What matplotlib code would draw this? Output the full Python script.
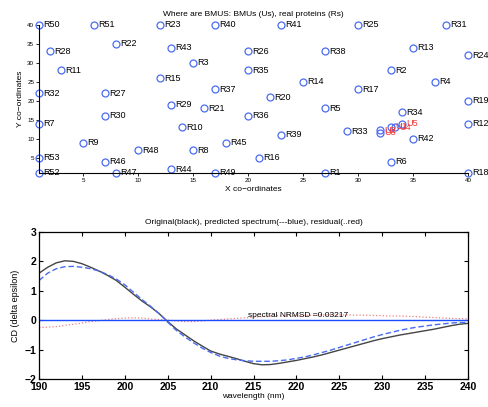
import numpy as np
import matplotlib
matplotlib.use('Agg')
import matplotlib.pyplot as plt

# real proteins (Rs) on the map
r_names = ['R50', 'R51', 'R23', 'R40', 'R41', 'R25', 'R31',
           'R22', 'R28', 'R43', 'R13', 'R26', 'R38', 'R24',
           'R3', 'R11', 'R35', 'R2', 'R15', 'R14', 'R4',
           'R32', 'R27', 'R37', 'R17', 'R20', 'R19',
           'R29', 'R21', 'R5', 'R34', 'R30', 'R36',
           'R7', 'R12', 'R10', 'R33', 'R39', 'R42',
           'R9', 'R45', 'R48', 'R8', 'R53', 'R16',
           'R46', 'R6', 'R44', 'R52', 'R47', 'R49', 'R1', 'R18']
r_x = [1, 6, 12, 17, 23, 30, 38,
       8, 2, 13, 35, 20, 27, 40,
       15, 3, 20, 33, 12, 25, 37,
       1, 7, 17, 30, 22, 40,
       13, 16, 27, 34, 7, 20,
       1, 40, 14, 29, 23, 35,
       5, 18, 10, 15, 1, 21,
       7, 33, 13, 1, 8, 17, 27, 40]
r_y = [40, 40, 40, 40, 40, 40, 40,
       35, 33, 34, 34, 33, 33, 32,
       30, 28, 28, 28, 26, 25, 25,
       22, 22, 23, 23, 21, 20,
       19, 18, 18, 17, 16, 16,
       14, 14, 13, 12, 11, 10,
       9, 9, 7, 7, 5, 5,
       4, 4, 2, 1, 1, 1, 1, 1]

# best matching units (Us)
u_names = ['U1', 'U2', 'U3', 'U4', 'U5']
u_x = [33, 32, 32, 33.4, 34]
u_y = [13.2, 12.3, 11.6, 13.0, 14.0]

# CD spectra
wl = np.arange(190, 241)
original = [1.60, 1.80, 1.95, 2.02, 2.00, 1.92, 1.80, 1.67, 1.52, 1.35,
            1.12, 0.88, 0.65, 0.45, 0.22, -0.05, -0.30, -0.50, -0.70, -0.88,
            -1.05, -1.15, -1.23, -1.31, -1.40, -1.48, -1.52, -1.51, -1.47, -1.42,
            -1.37, -1.31, -1.25, -1.18, -1.10, -1.02, -0.94, -0.86, -0.78, -0.70,
            -0.63, -0.57, -0.51, -0.46, -0.41, -0.36, -0.31, -0.25, -0.19, -0.14,
            -0.11]
predicted = [1.35, 1.60, 1.75, 1.82, 1.83, 1.80, 1.75, 1.67, 1.55, 1.40,
             1.20, 0.95, 0.70, 0.47, 0.22, -0.07, -0.35, -0.57, -0.77, -0.95,
             -1.10, -1.22, -1.30, -1.35, -1.38, -1.40, -1.40, -1.40, -1.38, -1.35,
             -1.30, -1.25, -1.18, -1.10, -1.02, -0.93, -0.84, -0.75, -0.66, -0.57,
             -0.49, -0.42, -0.35, -0.29, -0.24, -0.20, -0.16, -0.13, -0.10, -0.08,
             -0.08]
residual = [-0.25, -0.24, -0.22, -0.18, -0.14, -0.10, -0.05, -0.02, 0.02, 0.05,
            0.07, 0.08, 0.07, 0.04, 0.02, 0.00, -0.03, -0.05, -0.05, -0.03,
            0.00, 0.02, 0.04, 0.06, 0.08, 0.10, 0.12, 0.14, 0.15, 0.15,
            0.15, 0.16, 0.17, 0.18, 0.18, 0.18, 0.18, 0.17, 0.17, 0.16,
            0.15, 0.14, 0.14, 0.13, 0.12, 0.10, 0.09, 0.07, 0.06, 0.05,
            0.05]
nrmsd = 0.03217

plt.rcParams['font.family'] = ['Liberation Sans', 'DejaVu Sans']

fig = plt.figure(figsize=(4.89, 4.07), dpi=100)

# ---- top: map of BMUs and real proteins ----
ax0 = fig.add_axes([0.08, 0.575, 0.877, 0.364])
mcol = '#4a6cf0'
ax0.plot(r_x, r_y, 'o', mfc='none', mec=mcol, ms=5, mew=0.9, clip_on=False)
ax0.plot(u_x, u_y, 'o', mfc='none', mec=mcol, ms=5, mew=0.9, clip_on=False)
for n, x, y in zip(r_names, r_x, r_y):
    ax0.text(x + 0.35, y, n, fontsize=6.5, va='center', ha='left', clip_on=False)
for n, x, y in zip(u_names, u_x, u_y):
    ax0.text(x + 0.35, y, n, fontsize=6.5, va='center', ha='left', color='#ee3333',
             clip_on=False)
ax0.set_xlim(1, 40)
ax0.set_ylim(1, 40)
ax0.set_xticks([5, 10, 15, 20, 25, 30, 35, 40])
ax0.set_yticks([5, 10, 15, 20, 25, 30, 35, 40])
ax0.tick_params(labelsize=4.5, length=2.5, width=0.6, direction='out', pad=1)
for s in ['top', 'right']:
    ax0.spines[s].set_visible(False)
for s in ['left', 'bottom']:
    ax0.spines[s].set_linewidth(0.8)
ax0.set_xlabel('X co\u2212ordinates', fontsize=6, labelpad=2)
ax0.set_ylabel('Y co\u2212ordinates', fontsize=6, labelpad=2)
ax0.set_title('Where are BMUS: BMUs (Us), real proteins (Rs)', fontsize=6, pad=6)

# ---- bottom: CD spectra ----
ax1 = fig.add_axes([0.08, 0.069, 0.877, 0.361])
ax1.plot(wl, original, '-', color='#444444', lw=1.0)
ax1.plot(wl, predicted, '--', color='#4a6cf0', lw=1.0, dashes=(4, 2))
ax1.plot(wl, residual, ':', color='#f08080', lw=0.9)
ax1.axhline(0, color='#1a4dff', lw=1.0)
ax1.text(214.3, 0.04, 'spectral NRMSD =%.5f' % nrmsd, fontsize=6, va='bottom', ha='left')
ax1.set_xlim(190, 240)
ax1.set_ylim(-2, 3)
ax1.set_xticks(range(190, 241, 5))
ax1.set_yticks([-2, -1, 0, 1, 2, 3])
ax1.set_yticklabels(['\u22122', '\u22121', '0', '1', '2', '3'])
ax1.tick_params(labelsize=7.5, length=3, width=0.8, direction='in', top=True, right=True, pad=2)
for lab in ax1.get_xticklabels() + ax1.get_yticklabels():
    lab.set_fontweight('bold')
for s in ax1.spines.values():
    s.set_linewidth(0.9)
ax1.set_xlabel('wavelength (nm)', fontsize=6, labelpad=1)
ax1.set_ylabel('CD (delta epsilon)', fontsize=6.5, labelpad=3)
ax1.set_title('Original(black), predicted spectrum(---blue), residual(..red)', fontsize=6, pad=6)

fig.savefig('out.png', dpi=100)
